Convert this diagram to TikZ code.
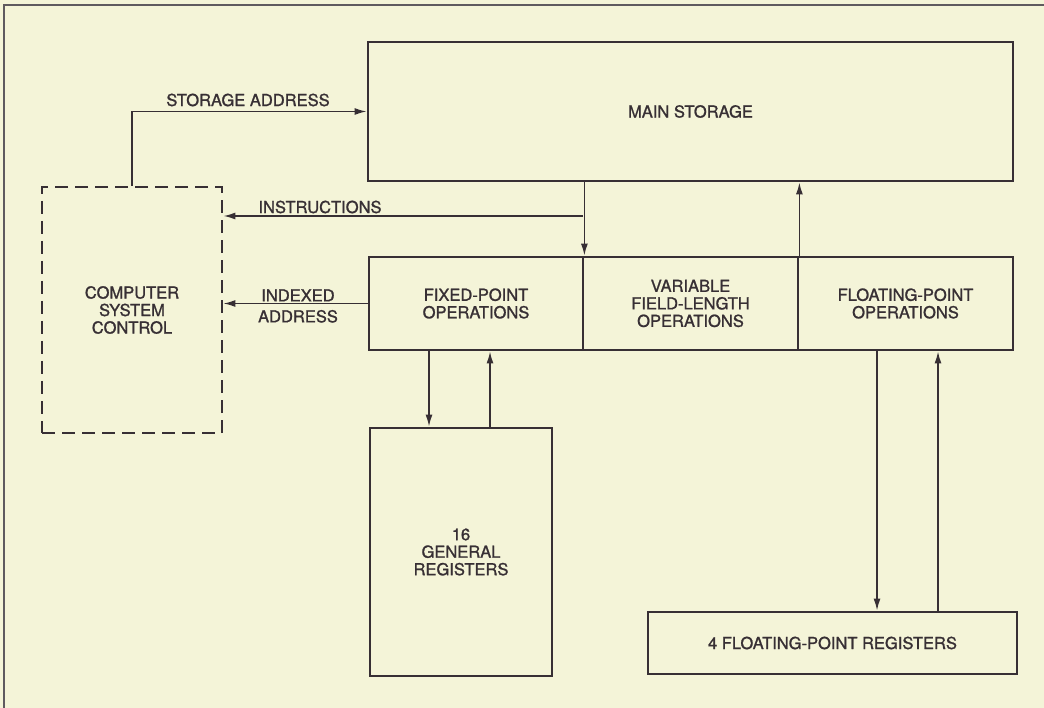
\documentclass[tikz,border=0pt]{standalone}
\usepackage{fontspec}
\setmainfont[FakeBold=1.2]{TeX Gyre Heros}
\usetikzlibrary{arrows.meta}
\definecolor{bg}{RGB}{244,244,216}
\definecolor{ink}{RGB}{55,47,52}
\definecolor{framec}{RGB}{95,90,95}
\begin{document}
\begin{tikzpicture}[x=1pt,y=-1pt,
  box/.style={draw=ink,line width=2.8pt,rectangle,inner sep=0pt,align=center,text=ink,
    font=\fontsize{16.5}{17.5}\selectfont},
  conn/.style={draw=ink,line width=1.6pt},
  arr/.style={conn,-{Latex[length=12pt,width=7pt]}},
  lbl/.style={text=ink,font=\fontsize{16.5}{21}\selectfont,align=center,inner sep=0pt},
  framel/.style={draw=framec,line width=1.4pt}]
\fill[bg] (0,0) rectangle (1044,708);
\useasboundingbox (0,0) rectangle (1044,708);
\draw[framel] (4,708) -- (4,5) -- (1044,5);

% boxes
\node[box,minimum width=645pt,minimum height=139pt] (main) at (690.5,111.5) {MAIN STORAGE};
\node[box,dashed,dash pattern=on 13pt off 7pt,minimum width=180pt,minimum height=246pt] (ctrl) at (132,310) {COMPUTER\\SYSTEM\\CONTROL};
\node[box,minimum width=214pt,minimum height=93pt] (fixed) at (476,303.5) {FIXED-POINT\\OPERATIONS};
\node[box,minimum width=215pt,minimum height=93pt] (var) at (690.5,303.5) {VARIABLE\\FIELD-LENGTH\\OPERATIONS};
\node[box,minimum width=215pt,minimum height=93pt] (float) at (905.5,303.5) {FLOATING-POINT\\OPERATIONS};
\node[box,minimum width=182pt,minimum height=248pt] (genreg) at (461,552) {16\\GENERAL\\REGISTERS};
\node[box,minimum width=369pt,minimum height=62pt] (fpreg) at (832.5,643) {4 FLOATING-POINT REGISTERS};

% storage address
\draw[arr] (ctrl.north) |- (main.west);
\node[lbl] (lsa) at (248,100) {STORAGE ADDRESS};

% instructions
\coordinate (ib) at (583,216);
\draw[arr] (main.south -| fixed.north east) -- (fixed.north east);
\draw[arr] (ib) -- (ib -| ctrl.east);
\node[lbl] (lins) at (320,207) {INSTRUCTIONS};

% results to storage
\draw[arr] (var.north east) -- (var.north east |- main.south);

% indexed address
\draw[arr] (fixed.west) -- (fixed.west -| ctrl.east);
\node[lbl] (lidx) at (298,306) {INDEXED\\ADDRESS};

% general registers
\draw[arr] (fixed.south -| 429,0) -- (genreg.north -| 429,0);
\draw[arr] (genreg.north -| 490,0) -- (fixed.south -| 490,0);

% floating-point registers
\draw[arr] (float.south -| 877,0) -- (fpreg.north -| 877,0);
\draw[arr] (fpreg.north -| 938,0) -- (float.south -| 938,0);
\end{tikzpicture}
\end{document}
